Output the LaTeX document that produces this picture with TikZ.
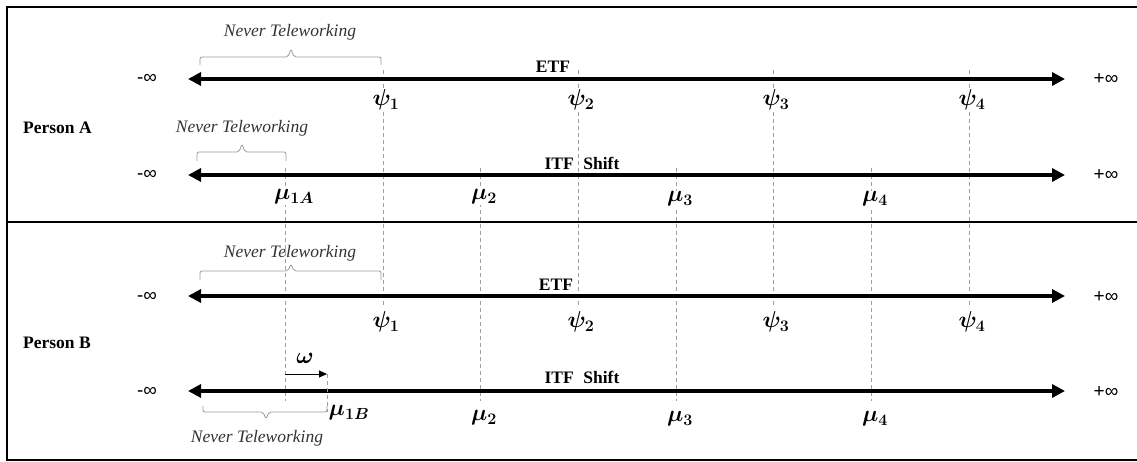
\documentclass[tikz,border=0pt]{standalone}
\usepackage{fix-cm}
\usepackage{amsmath}
\usepackage{bm}
\usepackage{fontspec}
\setmainfont{Liberation Serif}
\newfontfamily\infsans{Liberation Sans}
\usetikzlibrary{arrows.meta}

% bracket: x1, x2, xmid, ybase, yflat, ytip
\newcommand{\ntbracket}[6]{%
  \draw[brk] (#1,#4) -- (#1,#5) -- ({#3-3},#5) -- (#3,#6) -- ({#3+3},#5) -- (#2,#5) -- (#2,#4);}

\begin{document}
\begin{tikzpicture}[x=1pt,y=-1pt,
  axis/.style={line width=3.6pt,{Triangle[length=13pt,width=13pt]}-{Triangle[length=13pt,width=13pt]}},
  guide/.style={draw=gray!75,line width=0.8pt,dash pattern=on 4pt off 3pt},
  brk/.style={draw=gray!80,line width=0.8pt,rounded corners=2pt},
  lbl/.style={font=\fontsize{17.5}{20}\selectfont\bfseries,inner sep=0pt},
  nt/.style={font=\fontsize{17.5}{20}\selectfont\itshape,text=black!80,inner sep=0pt},
  inf/.style={font=\infsans\fontsize{19}{20}\selectfont,inner sep=0pt},
  sym/.style={font=\fontsize{23}{25}\selectfont,fill=white,inner sep=1pt},
  frame/.style={line width=2.2pt}]
\useasboundingbox (0,0) rectangle (1137,462);

% outer frame and divider between the two persons
\draw[frame] (7,7) rectangle (1140,460);
\draw[frame] (7,222) -- (1140,222);

% guide lines for the thresholds
\foreach \x/\n in {383/1,578/2,773/3,969/4}{
  \coordinate (pt\n) at (\x,70);
  \coordinate (pb\n) at (\x,306);
  \draw[guide] (pt\n) -- (pb\n);
}
\foreach \x/\n in {285/1,480/2,676/3,871/4}{
  \coordinate (mt\n) at (\x,168);
  \coordinate (mb\n) at (\x,401);
  \draw[guide] (mt\n) -- (mb\n);
}

% axes
\coordinate (aEl) at (188,79);  \coordinate (aEr) at (1065,79);
\coordinate (aIl) at (188,175); \coordinate (aIr) at (1065,175);
\coordinate (bEl) at (188,296); \coordinate (bEr) at (1065,296);
\coordinate (bIl) at (188,391); \coordinate (bIr) at (1065,391);
\draw[axis] (aEl) -- (aEr);
\draw[axis] (aIl) -- (aIr);
\draw[axis] (bEl) -- (bEr);
\draw[axis] (bIl) -- (bIr);

% infinity labels
\node[inf] (aEm) at (147,79) {-∞};   \node[inf] (aEp) at (1106,79) {+∞};
\node[inf] (aIm) at (147,175) {-∞};  \node[inf] (aIp) at (1106,175) {+∞};
\node[inf] (bEm) at (147,297) {-∞};  \node[inf] (bEp) at (1106,297) {+∞};
\node[inf] (bIm) at (147,392) {-∞};  \node[inf] (bIp) at (1106,392) {+∞};

% axis names and persons
\node[lbl] (etfA) at (553,67) {ETF};
\node[lbl] (itfA) at (582,163) {ITF\hspace{0.55em}Shift};
\node[lbl] (etfB) at (556,285) {ETF};
\node[lbl] (itfB) at (582,377) {ITF\hspace{0.55em}Shift};
\node[lbl,anchor=west] (perA) at (23,128) {Person A};
\node[lbl,anchor=west] (perB) at (23,343) {Person B};

% threshold symbols, Person A
\node[sym] (psiA1) at (386,100) {$\bm{\psi_1}$};
\node[sym] (psiA2) at (581,100) {$\bm{\psi_2}$};
\node[sym] (psiA3) at (776,100) {$\bm{\psi_3}$};
\node[sym] (psiA4) at (972,100) {$\bm{\psi_4}$};
\node[sym] (muA1) at (294,197) {$\bm{\mu_{1A}}$};
\node[sym] (muA2) at (484,197) {$\bm{\mu_2}$};
\node[sym] (muA3) at (680,199) {$\bm{\mu_3}$};
\node[sym] (muA4) at (875,199) {$\bm{\mu_4}$};

% threshold symbols, Person B
\node[sym] (psiB1) at (386,322) {$\bm{\psi_1}$};
\node[sym] (psiB2) at (581,322) {$\bm{\psi_2}$};
\node[sym] (psiB3) at (776,322) {$\bm{\psi_3}$};
\node[sym] (psiB4) at (972,322) {$\bm{\psi_4}$};
\node[sym] (muB2) at (484,418) {$\bm{\mu_2}$};
\node[sym] (muB3) at (680,419) {$\bm{\mu_3}$};
\node[sym] (muB4) at (875,419) {$\bm{\mu_4}$};

% shift omega for Person B
\coordinate (wS) at (285,374);
\coordinate (wE) at (327,374);
\coordinate (wB) at (327,412);
\draw[guide] (wE) -- (wB);
\draw[line width=1pt,-{Triangle[length=8pt,width=7pt]}] (wS) -- (wE);
\node[sym,fill=none] (omega) at (305,358) {$\bm{\omega}$};
\node[sym,fill=none] (muB1) at (349,413) {$\bm{\mu_{1B}}$};

% never-teleworking brackets
\ntbracket{200}{381}{291}{65}{57}{49}
\ntbracket{197}{286}{242}{161}{152}{144}
\ntbracket{200}{381}{291}{280}{271}{264}
\ntbracket{203}{327}{266}{406}{412}{419}
\node[nt] (nt1) at (290,32) {Never Teleworking};
\node[nt] (nt2) at (242,128) {Never Teleworking};
\node[nt] (nt3) at (290,253) {Never Teleworking};
\node[nt] (nt4) at (257,438) {Never Teleworking};
\end{tikzpicture}
\end{document}
